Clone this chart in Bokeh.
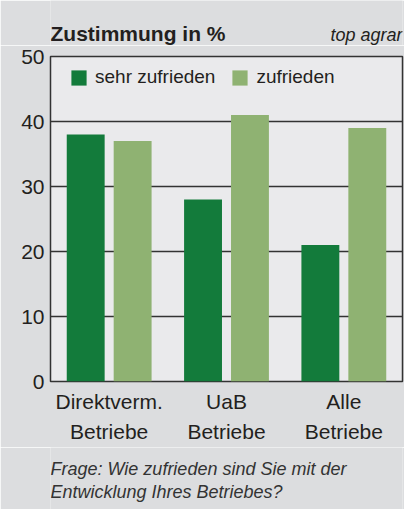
from bokeh.plotting import figure
from bokeh.layouts import column
from bokeh.models import ColumnDataSource, Label, Legend, LegendItem, FactorRange
from bokeh.transform import dodge
from bokeh.embed import file_html
from bokeh.resources import INLINE

categories = ["Direktverm.\nBetriebe", "UaB\nBetriebe", "Alle\nBetriebe"]
sehr_zufrieden = [38, 28, 21]
zufrieden = [37, 41, 39]
series_names = ["sehr zufrieden", "zufrieden"]
y_ticks = [0, 10, 20, 30, 40, 50]

title_text = "Zustimmung in %"
source_text = "top agrar"
caption_lines = ["Frage: Wie zufrieden sind Sie mit der", "Entwicklung Ihres Betriebes?"]

DARK = "#137b3b"
LIGHT = "#8fb272"
OUTER = "#dcdddf"
INNER = "#eaeaec"
LINE = "#333333"
TXT = "#231f20"
FONT = "Liberation Sans"

W = 404
ML, MR, MT, MB = 50, 2, 11, 66
FW, FH = W - ML - MR, 325
MAIN_H = MT + FH + MB
HEAD_H, FOOT_H = 45, 62


def text_panel(height):
    f = figure(width=W, height=height, x_range=(0, 1), y_range=(0, 1),
               x_axis_location=None, y_axis_location=None,
               output_backend="svg", toolbar_location=None,
               min_border_left=ML, min_border_right=MR,
               min_border_top=0, min_border_bottom=0)
    f.grid.visible = False
    f.outline_line_color = None
    f.background_fill_color = OUTER
    f.border_fill_color = OUTER
    return f


# header: title + source (screen units are measured from the frame's bottom-left corner)
head = text_panel(HEAD_H)
head.add_layout(Label(x=0, y=12, x_units="screen", y_units="screen",
                      text=title_text, text_font=FONT,
                      text_font_size="21px", text_font_style="bold", text_color=TXT,
                      text_baseline="middle", text_align="left"))
head.add_layout(Label(x=FW, y=11, x_units="screen", y_units="screen",
                      text=source_text, text_font=FONT,
                      text_font_size="18px", text_font_style="italic", text_color=TXT,
                      text_baseline="middle", text_align="right"))

# main chart
src = ColumnDataSource(dict(cat=categories, a=sehr_zufrieden, b=zufrieden))
p = figure(x_range=FactorRange(*categories, range_padding=0), y_range=(0, 50),
           width=W, height=MAIN_H, output_backend="svg", toolbar_location=None,
           min_border_left=ML, min_border_right=MR, min_border_top=MT, min_border_bottom=MB)
p.background_fill_color = INNER
p.border_fill_color = OUTER
p.outline_line_color = LINE
p.outline_line_width = 1.5

r1 = p.vbar(x=dodge("cat", -0.2, range=p.x_range), top="a", width=0.323, source=src,
            fill_color=DARK, line_color=None)
r2 = p.vbar(x=dodge("cat", 0.2, range=p.x_range), top="b", width=0.323, source=src,
            fill_color=LIGHT, line_color=None)

p.xgrid.grid_line_color = None
p.ygrid.grid_line_color = LINE
p.ygrid.grid_line_width = 1.5
p.yaxis.ticker = y_ticks

for ax in (p.xaxis[0], p.yaxis[0]):
    ax.axis_line_color = None
    ax.major_tick_line_color = None
    ax.minor_tick_line_color = None
    ax.major_tick_out = 0
    ax.major_tick_in = 0
    ax.major_label_text_font = FONT
    ax.major_label_text_font_size = "21px"
    ax.major_label_text_color = TXT
p.yaxis.major_label_standoff = 6
p.xaxis.major_label_standoff = 8
p.xaxis.major_label_text_line_height = 1.33

legend = Legend(items=[LegendItem(label=series_names[0], renderers=[r1]),
                       LegendItem(label=series_names[1], renderers=[r2])],
                orientation="horizontal", location=(19, FH - 13 - 19),
                glyph_width=19, glyph_height=19, label_standoff=7, spacing=15,
                padding=0, margin=0, background_fill_alpha=0, border_line_alpha=0,
                label_text_font=FONT, label_text_font_size="19px", label_text_color=TXT)
p.add_layout(legend)

# footer: question
foot = text_panel(FOOT_H)
for i, line in enumerate(caption_lines):
    foot.add_layout(Label(x=0, y=41 - 23 * i, x_units="screen", y_units="screen",
                          text=line, text_font=FONT,
                          text_font_size="18px", text_font_style="italic", text_color="#333333",
                          text_baseline="middle", text_align="left"))

layout = column(head, p, foot, spacing=0, width=W, height=HEAD_H + MAIN_H + FOOT_H)

open("out.html", "w").write(file_html(layout, INLINE))
